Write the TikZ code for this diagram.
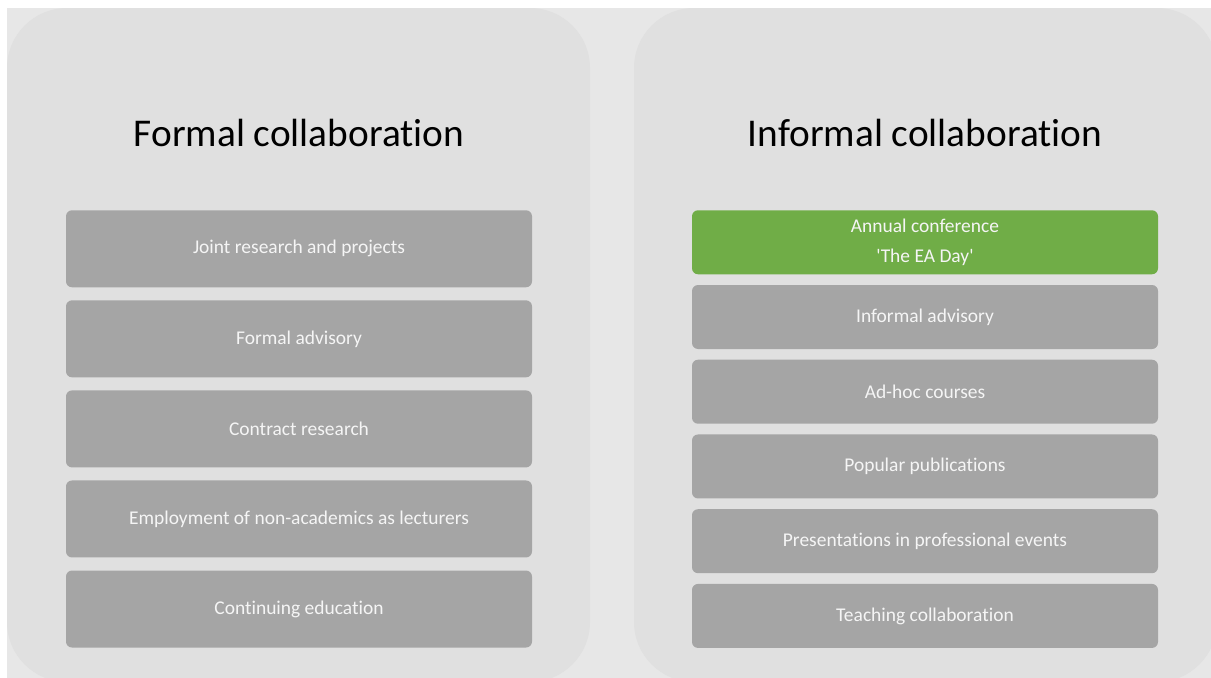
\documentclass[tikz,border=0pt]{standalone}
\usepackage{fontspec}
\setmainfont{Carlito}[Ligatures={NoCommon}]
\usetikzlibrary{positioning}
\definecolor{bggray}{HTML}{E7E7E7}
\definecolor{panelgray}{HTML}{E0E0E0}
\definecolor{boxgray}{HTML}{A5A5A5}
\definecolor{eagreen}{HTML}{70AD47}

\begin{document}
\begin{tikzpicture}[x=0.75pt,y=-0.75pt,
 panel/.style={fill=panelgray,rounded corners=45pt},
 item/.style={fill=boxgray,rounded corners=4.5pt,minimum width=349.5pt,inner sep=0pt,
  text=white!96!black,align=center,font=\fontsize{14.6}{22.5}\selectfont},
 lbox/.style={item,minimum height=57.75pt},
 rbox/.style={item,minimum height=48pt},
 head/.style={font=\fontsize{29.5}{36}\selectfont}]
\useasboundingbox (0,0) rectangle (1211,678);
\fill[bggray] (7,8) rectangle (1211,678);
\begin{scope}
\clip (0,0) rectangle (1211,678);
\fill[panel] (7,8) rectangle (590,682);
\fill[panel] (634,8) rectangle (1217,682);
\end{scope}
\node[head](fh) at (299,133){Formal collaboration};
\node[head](ih) at (925,133){Informal collaboration};
\node[lbox,anchor=north](a) at (299,210){Joint research and projects};
\node[lbox,below=9.4pt of a](b){Formal advisory};
\node[lbox,below=9.4pt of b](c){Contract research};
\node[lbox,below=9.4pt of c](d){Employment of non-academics as lecturers};
\node[lbox,below=9.4pt of d](e){Continuing education};
\node[rbox,fill=eagreen,anchor=north](g) at (925,210){Annual conference\\\textquotesingle The EA Day\textquotesingle};
\node[rbox,below=7.65pt of g](h){Informal advisory};
\node[rbox,below=7.65pt of h](i){Ad-hoc courses};
\node[rbox,below=7.65pt of i](j){Popular publications};
\node[rbox,below=7.65pt of j](k){Presentations in professional events};
\node[rbox,below=7.65pt of k](l){Teaching collaboration};
\end{tikzpicture}
\end{document}
